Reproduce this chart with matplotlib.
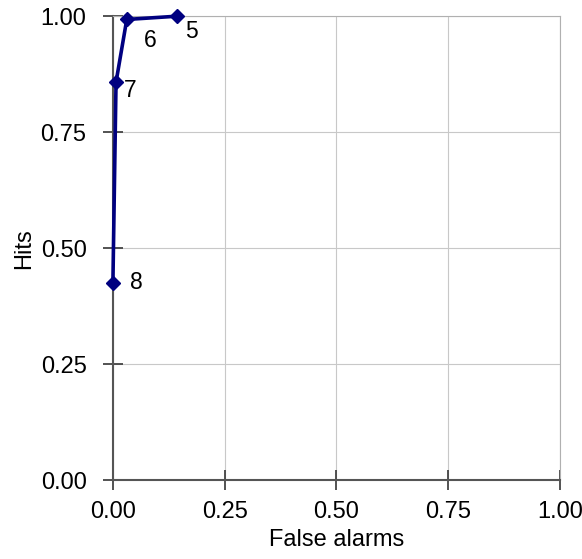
import matplotlib
matplotlib.use("Agg")
import matplotlib.pyplot as plt

plt.rcParams['font.family'] = ['Liberation Sans', 'DejaVu Sans']

false_alarms = [0.0, 0.007, 0.031, 0.143]
hits = [0.425, 0.858, 0.993, 1.0]
point_labels = ["8", "7", "6", "5"]
ticks = [0.0, 0.25, 0.5, 0.75, 1.0]
tick_labels = ["0.00", "0.25", "0.50", "0.75", "1.00"]

fig = plt.figure(figsize=(5.82, 5.59), dpi=100)
ax = fig.add_axes([0.194, 0.141, 0.768, 0.830])
ax.plot(false_alarms, hits, color="#000080", lw=2.6, marker="D", ms=7, clip_on=False, zorder=5)
offsets = [(12, 0), (6, -6), (12, -15), (6, -11)]
for x, y, t, o in zip(false_alarms, hits, point_labels, offsets):
    ax.annotate(t, (x, y), xytext=o, textcoords="offset points", fontsize=16.5, va="center", ha="left")
ax.set_xlim(0, 1)
ax.set_ylim(0, 1)
ax.set_xticks(ticks)
ax.set_xticklabels(tick_labels)
ax.set_yticks(ticks)
ax.set_yticklabels(tick_labels)
ax.tick_params(direction="inout", length=14, width=1.3, labelsize=17, color="#444444", pad=8)
ax.tick_params(axis="y", pad=12)
ax.grid(True, color="#c8c8c8", lw=0.8)
for s in ["top", "right"]:
    ax.spines[s].set_color("#b0b0b0")
    ax.spines[s].set_linewidth(0.8)
for s in ["left", "bottom"]:
    ax.spines[s].set_color("#555555")
    ax.spines[s].set_linewidth(1.5)
ax.set_xlabel("False alarms", fontsize=17, labelpad=4)
ax.set_ylabel("Hits", fontsize=17, labelpad=4)
fig.savefig("out.png", dpi=100)
